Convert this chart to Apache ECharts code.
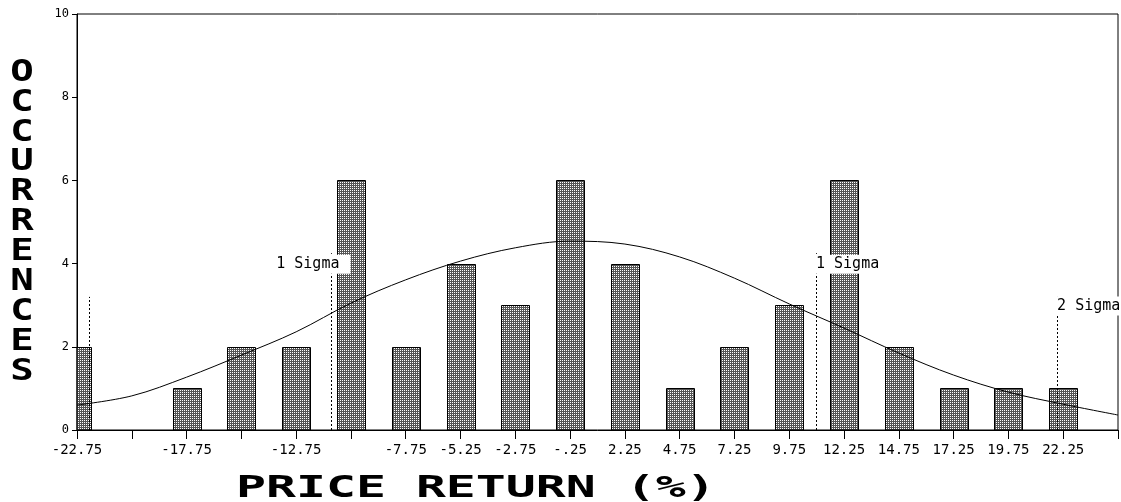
<!DOCTYPE html>
<html>
<head>
<meta charset="utf-8">
<script src="https://cdn.jsdelivr.net/npm/echarts@6/dist/echarts.min.js"></script>
<style>
  html, body { margin: 0; padding: 0; background: #fff; }
  #chart { width: 1121px; height: 502px; }
</style>
</head>
<body>
<div id="chart"></div>
<script>
// ---- data ----
const binCenters = [-22.75, -20.25, -17.75, -15.25, -12.75, -10.25, -7.75, -5.25, -2.75, -0.25,
                    2.25, 4.75, 7.25, 9.75, 12.25, 14.75, 17.25, 19.75, 22.25, 24.75];
const tickLabels = ['-22.75', '', '-17.75', '', '-12.75', '', '-7.75', '-5.25', '-2.75', '-.25',
                    '2.25', '4.75', '7.25', '9.75', '12.25', '14.75', '17.25', '19.75', '22.25', ''];
const counts = [2, 0, 1, 2, 2, 6, 2, 4, 3, 6, 4, 1, 2, 3, 6, 2, 1, 1, 1, 0];
const curveValues = [0.60, 0.82, 1.27, 1.80, 2.36, 3.05, 3.61, 4.06, 4.38, 4.54,
                     4.47, 4.16, 3.65, 3.03, 2.45, 1.85, 1.32, 0.91, 0.62, 0.36];
const sigmaX = [-22.2, -11.14, 10.97, 21.97];
const sigmaTop = [3.2, 4.25, 4.25, 3.2];
const sigmaLabels = ['', '1 Sigma', '1 Sigma', '2 Sigma'];
const yTicks = [0, 2, 4, 6, 8, 10];
const xTitle = 'PRICE RETURN (%)';
const yTitle = 'OCCURRENCES';

// ---- pattern fill for bars ----
const pc = document.createElement('canvas');
pc.width = 2; pc.height = 2;
const pctx = pc.getContext('2d');
pctx.fillStyle = '#555';
pctx.fillRect(0, 0, 2, 2);
pctx.fillStyle = '#fff';
pctx.fillRect(0, 0, 1, 1);
const barPattern = { image: pc, repeat: 'repeat' };

const xMin = binCenters[0];
const xStep = binCenters[1] - binCenters[0];
const mono = '"DejaVu Sans Mono", "Liberation Mono", monospace';
const BAR_W = 28;

const chart = echarts.init(document.getElementById('chart'));
chart.setOption({
  animation: false,
  backgroundColor: '#fff',
  grid: { left: 77, right: 1, top: 14, bottom: 72, show: true, borderColor: '#000', borderWidth: 1, containLabel: false },
  xAxis: {
    type: 'value', min: xMin, max: binCenters[binCenters.length - 1], interval: xStep,
    axisLine: { show: true, onZero: false, lineStyle: { color: '#000', width: 1 } },
    axisTick: { show: true, inside: false, length: 9, lineStyle: { color: '#000', width: 1 } },
    splitLine: { show: false },
    axisLabel: {
      show: true, color: '#000', fontFamily: mono, fontSize: 14, margin: 13,
      showMinLabel: true, showMaxLabel: true, hideOverlap: false,
      formatter: function (v) {
        const i = Math.round((v - xMin) / xStep);
        return tickLabels[i] !== undefined ? tickLabels[i] : '';
      }
    }
  },
  yAxis: {
    type: 'value', min: yTicks[0], max: yTicks[yTicks.length - 1], interval: yTicks[1] - yTicks[0],
    axisLine: { show: true, onZero: false, lineStyle: { color: '#000', width: 1 } },
    axisTick: { show: true, inside: false, length: 5, lineStyle: { color: '#000', width: 1 } },
    splitLine: { show: false },
    axisLabel: { color: '#000', fontFamily: mono, fontSize: 12, margin: 8 }
  },
  graphic: [
    {
      type: 'text', x: 236, y: 474, scaleX: 1.66, scaleY: 1,
      style: { text: xTitle, font: 'bold 30px ' + mono, fill: '#000', align: 'left', verticalAlign: 'top' }
    },
    {
      type: 'text', x: 22, y: 58, scaleX: 1.3, scaleY: 1,
      style: { text: yTitle.split('').join('\n'), font: 'bold 30px ' + mono, lineHeight: 29.9, fill: '#000', align: 'center', verticalAlign: 'top' }
    }
  ],
  series: [
    {
      type: 'custom', z: 2,
      data: binCenters.map((x, i) => [x, counts[i]]).filter(d => d[1] > 0),
      renderItem: function (params, api) {
        const x = api.value(0), v = api.value(1);
        const top = api.coord([x, v]);
        const base = api.coord([x, 0]);
        const rect = {
          x: Math.round(top[0] - BAR_W / 2) + 0.5,
          y: Math.round(top[1]) + 0.5,
          width: BAR_W,
          height: Math.round(base[1]) - Math.round(top[1])
        };
        const cs = params.coordSys;
        const clipped = echarts.graphic.clipRectByRect(rect, { x: cs.x, y: cs.y, width: cs.width, height: cs.height });
        if (!clipped) return null;
        return {
          type: 'rect', shape: clipped,
          style: { fill: barPattern, stroke: '#000', lineWidth: 1 }
        };
      }
    },
    {
      type: 'line', z: 3, smooth: 0.35, showSymbol: false, symbol: 'none',
      data: binCenters.map((x, i) => [x, curveValues[i]]),
      lineStyle: { color: '#000', width: 1 }
    },
    {
      type: 'custom', z: 4,
      data: sigmaX.map((x, i) => [x, sigmaTop[i], i]),
      renderItem: function (params, api) {
        const x = api.value(0), top = api.value(1), idx = api.value(2);
        const p0 = api.coord([x, 0]);
        const p1 = api.coord([x, top]);
        const px = Math.round(p0[0]) + 0.5;
        const children = [{
          type: 'line',
          shape: { x1: px, y1: p0[1], x2: px, y2: p1[1] },
          style: { stroke: '#000', lineWidth: 1, lineDash: [2, 2] }
        }];
        const label = sigmaLabels[idx];
        if (label) {
          const leftSide = x < 0;
          children.push({
            type: 'text',
            x: p1[0] + (leftSide ? 19 : -2),
            y: p1[1] + (idx === 3 ? 9 : 11),
            style: {
              text: label, font: '15px ' + mono, fill: '#000',
              align: leftSide ? 'right' : 'left', verticalAlign: 'middle',
              backgroundColor: '#fff', padding: leftSide ? [2, 11, 2, 2] : [2, 2, 2, 2]
            }
          });
        }
        return { type: 'group', children: children };
      }
    }
  ]
});
</script>
</body>
</html>
